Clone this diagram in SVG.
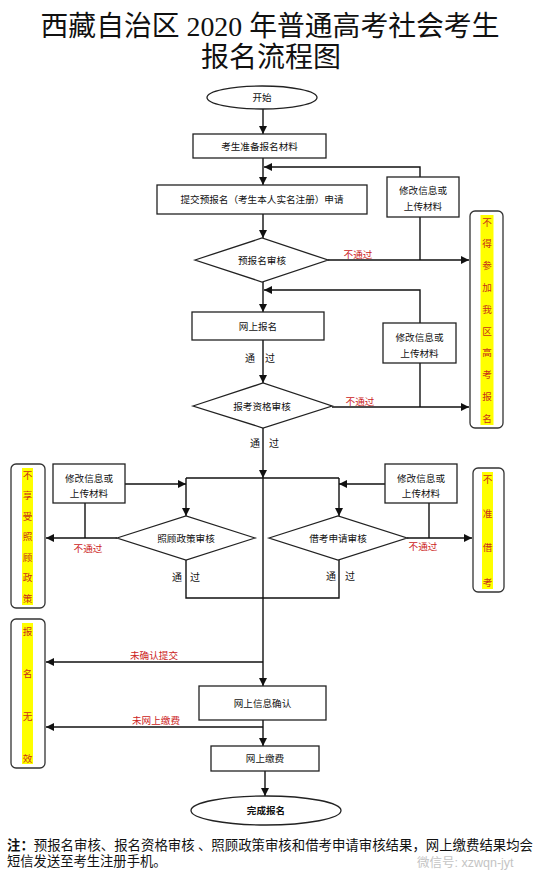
<svg xmlns="http://www.w3.org/2000/svg" width="540" height="879" viewBox="0 0 540 879">
<style>
.bg{fill:#ffffff}
.box{fill:#ffffff;stroke:#222;stroke-width:1.3}
.ln{fill:none;stroke:#111;stroke-width:1.4}
.arr{fill:none;stroke:#111;stroke-width:1.4;marker-end:url(#ah)}
.t{font-family:"Liberation Sans","Noto Sans CJK SC",sans-serif;font-size:9.6px;fill:#111;text-anchor:middle;dominant-baseline:central}
.lab{font-family:"Liberation Sans","Noto Sans CJK SC",sans-serif;font-size:10px;fill:#111;text-anchor:middle;dominant-baseline:central}
.red{font-family:"Liberation Sans","Noto Sans CJK SC",sans-serif;font-size:9.6px;fill:#cc2222;text-anchor:middle;dominant-baseline:central}
.ybox{fill:#ffffff;stroke:#333;stroke-width:1.3}
.ystrip{fill:#ffff00}
.yt{font-family:"Liberation Sans","Noto Sans CJK SC",sans-serif;font-size:9.6px;fill:#c8301a;text-anchor:middle;dominant-baseline:central}
.title{font-family:"Liberation Serif","Noto Sans CJK SC",serif;font-size:28px;fill:#111;text-anchor:middle;dominant-baseline:central}
.note{font-family:"Liberation Serif","Noto Sans CJK SC",serif;font-size:13.3px;fill:#111}
</style>
<defs>
<marker id="ah" viewBox="0 0 10 10" refX="10" refY="5" markerWidth="8" markerHeight="8" markerUnits="userSpaceOnUse" orient="auto">
<path d="M0,0 L10,5 L0,10 z" fill="#111"/>
</marker>
</defs>
<rect class="bg" x="0" y="0" width="540" height="879"/>

<g id="title">
<text class="title" x="270" y="26" textLength="459" lengthAdjust="spacingAndGlyphs">西藏自治区 2020 年普通高考社会考生</text>
<text class="title" x="271" y="57">报名流程图</text>
</g>

<g id="connectors">
<line class="arr" x1="263" y1="109" x2="263" y2="134"/>
<line class="arr" x1="263" y1="158" x2="263" y2="185"/>
<polyline class="arr" points="420,177 420,167 264,167"/>
<line class="arr" x1="263" y1="214" x2="263" y2="238"/>
<line class="ln" x1="420" y1="217" x2="420" y2="260"/>
<line class="arr" x1="328" y1="260" x2="469" y2="260"/>
<line class="arr" x1="263" y1="282" x2="263" y2="312"/>
<polyline class="arr" points="420,323 420,290 264,290"/>
<line class="arr" x1="263" y1="340" x2="263" y2="383"/>
<line class="ln" x1="420" y1="363" x2="420" y2="407"/>
<line class="arr" x1="332" y1="407" x2="469" y2="407"/>
<line class="arr" x1="263" y1="428" x2="263" y2="478"/>
<line class="arr" x1="263" y1="478" x2="263" y2="686"/>
<line class="ln" x1="186" y1="478" x2="339" y2="478"/>
<line class="arr" x1="186" y1="478" x2="186" y2="516"/>
<line class="arr" x1="339" y1="478" x2="339" y2="516"/>
<line class="arr" x1="125" y1="484" x2="186" y2="484"/>
<line class="ln" x1="85" y1="503" x2="85" y2="538"/>
<line class="arr" x1="117" y1="538" x2="46" y2="538"/>
<polyline class="ln" points="186,560 186,598 339,598 339,560"/>
<line class="arr" x1="385" y1="484" x2="339" y2="484"/>
<line class="ln" x1="429" y1="503" x2="429" y2="538"/>
<line class="arr" x1="407" y1="538" x2="472" y2="538"/>
<line class="arr" x1="263" y1="662" x2="46" y2="662"/>
<line class="arr" x1="263" y1="720" x2="263" y2="746"/>
<line class="arr" x1="263" y1="727" x2="46" y2="727"/>
<line class="arr" x1="265" y1="771" x2="265" y2="796"/>
</g>

<g id="edge-labels">
<text class="red" x="358" y="254">不通过</text>
<text class="lab" x="250" y="358">通</text>
<text class="lab" x="270" y="358">过</text>
<text class="red" x="360" y="401">不通过</text>
<text class="lab" x="255" y="443">通</text>
<text class="lab" x="274" y="443">过</text>
<text class="red" x="88" y="548">不通过</text>
<text class="lab" x="177" y="577">通</text>
<text class="lab" x="195" y="577">过</text>
<text class="red" x="423" y="546">不通过</text>
<text class="lab" x="331" y="576">通</text>
<text class="lab" x="350" y="576">过</text>
<text class="red" x="154" y="655">未确认提交</text>
<text class="red" x="156" y="720">未网上缴费</text>
</g>

<g id="start">
<ellipse class="box" cx="262" cy="97.5" rx="55" ry="11.5"/>
<text class="t" x="262" y="97.5">开始</text>
</g>
<g id="prepare">
<rect class="box" x="193" y="134" width="133" height="24"/>
<text class="t" x="259.5" y="146">考生准备报名材料</text>
</g>
<g id="submit">
<rect class="box" x="157" y="185" width="210" height="29"/>
<text class="t" x="262" y="199.5">提交预报名（考生本人实名注册）申请</text>
</g>
<g id="modify1">
<rect class="box" x="387" y="177" width="72" height="40"/>
<text class="t" x="423" y="190">修改信息或</text>
<text class="t" x="423" y="206">上传材料</text>
</g>
<g id="prereview">
<polygon class="box" points="195,260 262,238 328,260 262,282"/>
<text class="t" x="262" y="260">预报名审核</text>
</g>
<g id="online-reg">
<rect class="box" x="192" y="312" width="132" height="28"/>
<text class="t" x="258" y="326">网上报名</text>
</g>
<g id="modify2">
<rect class="box" x="383" y="323" width="73" height="40"/>
<text class="t" x="419.5" y="337">修改信息或</text>
<text class="t" x="419.5" y="353">上传材料</text>
</g>
<g id="qualify">
<polygon class="box" points="193,406 263,383 332,406 263,428"/>
<text class="t" x="262" y="406">报考资格审核</text>
</g>
<g id="no-register">
<rect class="ybox" x="470" y="211" width="33" height="217" rx="5"/>
<rect class="ystrip" x="480.5" y="215" width="13" height="210"/>
<text class="yt" x="487" y="222">不</text>
<text class="yt" x="487" y="243.8">得</text>
<text class="yt" x="487" y="265.6">参</text>
<text class="yt" x="487" y="287.4">加</text>
<text class="yt" x="487" y="309.2">我</text>
<text class="yt" x="487" y="331">区</text>
<text class="yt" x="487" y="352.8">高</text>
<text class="yt" x="487" y="374.6">考</text>
<text class="yt" x="487" y="396.4">报</text>
<text class="yt" x="487" y="418.2">名</text>
</g>
<g id="modify3">
<rect class="box" x="53" y="464" width="72" height="39"/>
<text class="t" x="89" y="478">修改信息或</text>
<text class="t" x="89" y="493">上传材料</text>
</g>
<g id="care-review">
<polygon class="box" points="117,538 186,516 255,538 186,560"/>
<text class="t" x="186" y="538">照顾政策审核</text>
</g>
<g id="no-care">
<rect class="ybox" x="11" y="464" width="34" height="144" rx="5"/>
<rect class="ystrip" x="22" y="468" width="11" height="137"/>
<text class="yt" x="27.5" y="475">不</text>
<text class="yt" x="27.5" y="495.5">享</text>
<text class="yt" x="27.5" y="516">受</text>
<text class="yt" x="27.5" y="536.5">照</text>
<text class="yt" x="27.5" y="557">顾</text>
<text class="yt" x="27.5" y="577.5">政</text>
<text class="yt" x="27.5" y="598">策</text>
</g>
<g id="modify4">
<rect class="box" x="385" y="464" width="72" height="39"/>
<text class="t" x="421" y="478">修改信息或</text>
<text class="t" x="421" y="493">上传材料</text>
</g>
<g id="borrow-review">
<polygon class="box" points="269,538 338,516 407,538 338,560"/>
<text class="t" x="338" y="538">借考申请审核</text>
</g>
<g id="no-borrow">
<rect class="ybox" x="473" y="468" width="31" height="124" rx="5"/>
<rect class="ystrip" x="482" y="472" width="11" height="117"/>
<text class="yt" x="487.5" y="479">不</text>
<text class="yt" x="487.5" y="513">准</text>
<text class="yt" x="487.5" y="547">借</text>
<text class="yt" x="487.5" y="582">考</text>
</g>
<g id="invalid">
<rect class="ybox" x="11" y="619" width="34" height="149" rx="5"/>
<rect class="ystrip" x="22" y="623" width="11" height="141"/>
<text class="yt" x="27.5" y="631">报</text>
<text class="yt" x="27.5" y="673">名</text>
<text class="yt" x="27.5" y="716">无</text>
<text class="yt" x="27.5" y="758">效</text>
</g>
<g id="confirm">
<rect class="box" x="199" y="686" width="127" height="34"/>
<text class="t" x="262.5" y="703">网上信息确认</text>
</g>
<g id="pay">
<rect class="box" x="211" y="746" width="108" height="25"/>
<text class="t" x="265" y="758.5">网上缴费</text>
</g>
<g id="end">
<ellipse class="box" cx="266" cy="810.5" rx="75" ry="14.5"/>
<text class="t" x="266" y="810.5" font-weight="bold">完成报名</text>
</g>

<g id="note">
<text class="note" x="7" y="850" textLength="526" lengthAdjust="spacingAndGlyphs"><tspan font-weight="bold">注：</tspan>预报名审核、报名资格审核 、照顾政策审核和借考申请审核结果，网上缴费结果均会</text>
<text class="note" x="7" y="866">短信发送至考生注册手机。</text>
<text x="417" y="867" font-family="Liberation Sans,Noto Sans CJK SC,sans-serif" font-size="12.5" fill="#c4c4c4">微信号: xzwqn-jyt</text>
</g>
</svg>
